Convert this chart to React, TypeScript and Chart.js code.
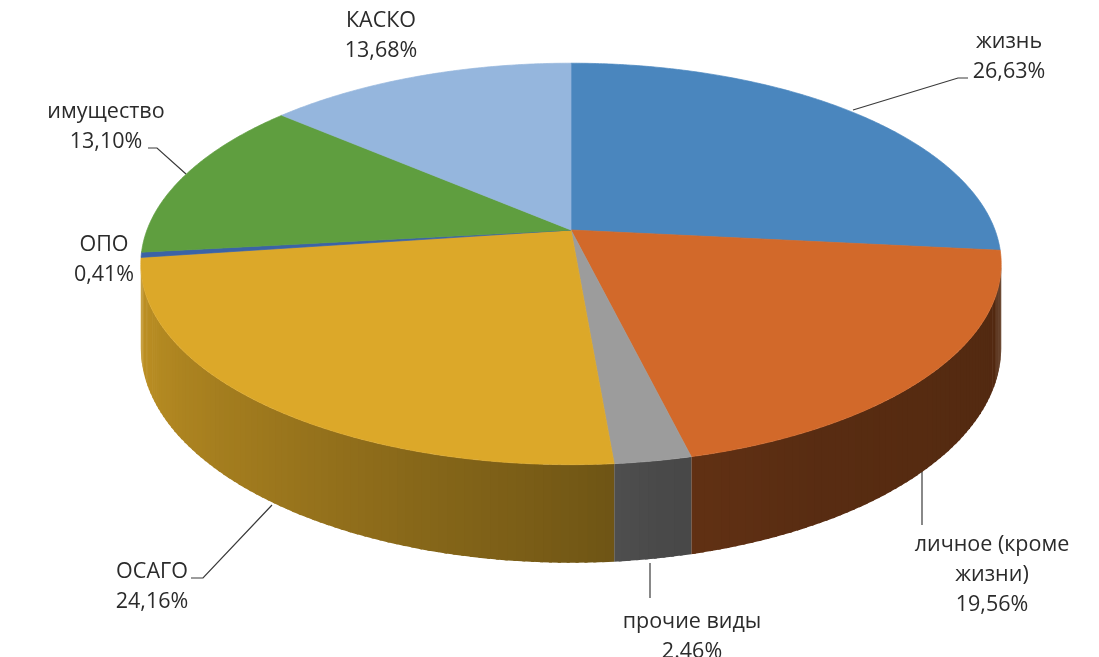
import React, { useEffect, useRef } from "react";
import { Chart, registerables } from "chart.js";

Chart.register(...registerables);

// ---- data ----
const categories = ["жизнь", "личное (кроме жизни)", "прочие виды", "ОСАГО", "ОПО", "имущество", "КАСКО"];
const shares = [26.63, 19.56, 2.46, 24.16, 0.41, 13.1, 13.68];
const shareLabels = ["26,63%", "19,56%", "2.46%", "24,16%", "0,41%", "13,10%", "13,68%"];
const labelLines = [["жизнь"], ["личное (кроме", "жизни)"], ["прочие виды"], ["ОСАГО"], ["ОПО"], ["имущество"], ["КАСКО"]];

// ---- styles / layout ----
const colors = ["#4A86BE", "#D2692A", "#9C9C9C", "#DCA829", "#3B63A6", "#5F9E3F", "#95B6DD"];
const labelPos = [
  [1009, 42],
  [992, 545],
  [692, 622],
  [152, 572],
  [104, 245],
  [106, 112],
  [381, 21],
];
const leaders: number[][][] = [
  [[853, 110], [958, 78], [968, 78]],
  [[922, 472], [922, 525]],
  [[650, 563], [650, 598]],
  [[272, 505], [203, 578], [191, 578]],
  [],
  [[186, 174], [157, 148], [148, 148]],
  [],
];

// 3D projection parameters
const CX = 571;
const CY = 230;
const R = 424;
const A = 195; // vertical semi-axis scale (R*sin(phi))
const B = 0.169; // perspective factor
const H = 81.5; // wall height

function proj(theta: number, r: number, h: number) {
  const s = 1 / (1 - B * r * Math.sin(theta));
  return [CX + R * r * Math.cos(theta) * s, CY + (A * r * Math.sin(theta) + h) * s];
}

function hexToRgb(hex: string) {
  const n = parseInt(hex.slice(1), 16);
  return [(n >> 16) & 255, (n >> 8) & 255, n & 255];
}

const shadeKeys = [
  [0, 0.38],
  [60, 0.42],
  [80, 0.47],
  [90, 0.53],
  [100, 0.58],
  [130, 0.72],
  [160, 0.84],
  [180, 0.9],
];
function shadeAt(deg: number) {
  for (let i = 0; i < shadeKeys.length - 1; i++) {
    const [d0, f0] = shadeKeys[i];
    const [d1, f1] = shadeKeys[i + 1];
    if (deg >= d0 && deg <= d1) return f0 + ((f1 - f0) * (deg - d0)) / (d1 - d0);
  }
  return deg < 0 ? 0.38 : 0.9;
}

const pie3d = {
  id: "pie3d",
  beforeDatasetsDraw(chart: any) {
    const ctx = chart.ctx as CanvasRenderingContext2D;
    const arcs = chart.getDatasetMeta(0).data as any[];
    const thS1 = Math.asin(B);
    const thS2 = Math.PI - thS1;
    const step = (1 * Math.PI) / 180;
    const ov = (0.35 * Math.PI) / 180;
    ctx.save();
    // walls
    arcs.forEach((arc: any, i: number) => {
      const rgb = hexToRgb(colors[i]);
      const s = arc.startAngle;
      const e = arc.endAngle;
      for (const off of [0, 2 * Math.PI, -2 * Math.PI]) {
        const a0 = Math.max(s + off, thS1);
        const a1 = Math.min(e + off, thS2);
        if (a1 <= a0) continue;
        for (let t = a0; t < a1; t += step) {
          const t2 = Math.min(t + step, a1);
          const f = shadeAt(((t + t2) / 2) * (180 / Math.PI));
          const col = `rgb(${Math.round(rgb[0] * f)},${Math.round(rgb[1] * f)},${Math.round(rgb[2] * f)})`;
          const tb = t2 < a1 ? t2 + ov : t2;
          const p1 = proj(t, 1, 0);
          const p2 = proj(tb, 1, 0);
          const p3 = proj(tb, 1, H);
          const p4 = proj(t, 1, H);
          ctx.beginPath();
          ctx.moveTo(p1[0], p1[1]);
          ctx.lineTo(p2[0], p2[1]);
          ctx.lineTo(p3[0], p3[1]);
          ctx.lineTo(p4[0], p4[1]);
          ctx.closePath();
          ctx.fillStyle = col;
          ctx.fill();
        }
      }
    });
    // top face
    arcs.forEach((arc: any, i: number) => {
      const s = arc.startAngle;
      const e = arc.endAngle;
      const n = Math.max(2, Math.ceil((e - s) / ((0.5 * Math.PI) / 180)));
      ctx.beginPath();
      const c = proj(0, 0, 0);
      ctx.moveTo(c[0], c[1]);
      for (let k = 0; k <= n; k++) {
        const t = s + ((e - s) * k) / n;
        const p = proj(t, 1, 0);
        ctx.lineTo(p[0], p[1]);
      }
      ctx.closePath();
      ctx.fillStyle = colors[i];
      ctx.strokeStyle = colors[i];
      ctx.lineWidth = 0.7;
      ctx.fill();
      ctx.stroke();
    });
    ctx.restore();
    return false;
  },
  afterDraw(chart: any) {
    const ctx = chart.ctx as CanvasRenderingContext2D;
    ctx.save();
    ctx.strokeStyle = "#3a3a3a";
    ctx.lineWidth = 1.2;
    leaders.forEach((pts) => {
      if (!pts.length) return;
      ctx.beginPath();
      ctx.moveTo(pts[0][0], pts[0][1]);
      for (let k = 1; k < pts.length; k++) ctx.lineTo(pts[k][0], pts[k][1]);
      ctx.stroke();
    });
    ctx.fillStyle = "#2b2b2b";
    ctx.font = '21.5px "Open Sans"';
    ctx.textAlign = "center";
    ctx.textBaseline = "middle";
    const lh = 30;
    categories.forEach((_, i) => {
      const [x, y] = labelPos[i];
      const lines = [...labelLines[i], shareLabels[i]];
      lines.forEach((ln, k) => ctx.fillText(ln, x, y + k * lh));
    });
    ctx.restore();
  },
};

export default function App() {
  const ref = useRef<HTMLCanvasElement>(null);
  useEffect(() => {
    if (!ref.current) return;
    const chart = new Chart(ref.current, {
      type: "pie",
      data: {
        labels: categories,
        datasets: [{ data: shares, backgroundColor: colors, borderWidth: 0 }],
      },
      options: {
        responsive: false,
        animation: false,
        events: [],
        plugins: { legend: { display: false }, tooltip: { enabled: false } },
      },
      plugins: [pie3d],
    } as any);
    return () => chart.destroy();
  }, []);
  return (
    <div style={{ position: "fixed", left: 0, top: 0, width: 1099, height: 657, background: "#fff" }}>
      <canvas ref={ref} width={1099} height={657} style={{ width: 1099, height: 657, display: "block" }} />
    </div>
  );
}
